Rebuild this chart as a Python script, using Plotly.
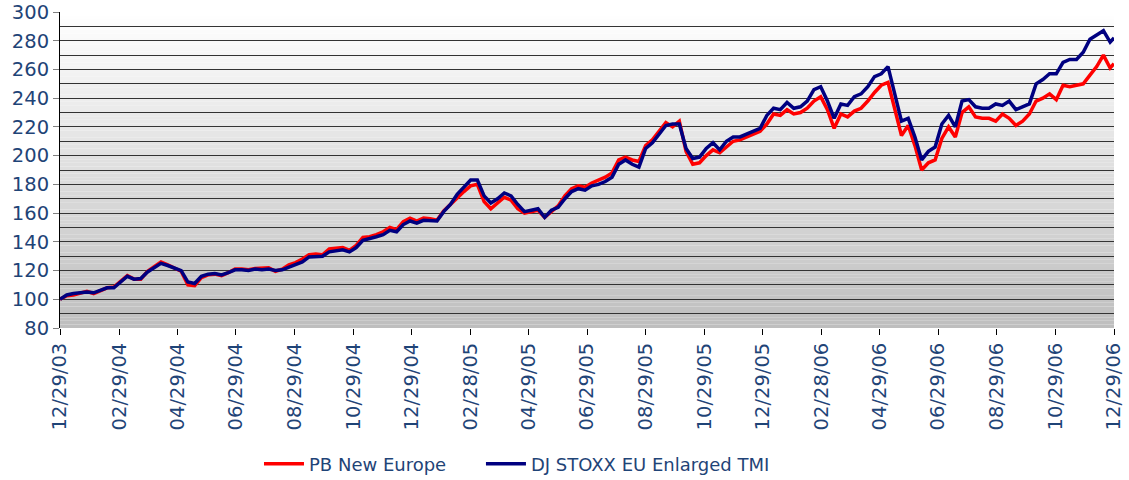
import pandas as pd
import plotly.graph_objects as go

# ---------------- data ----------------
start_date = "2003-12-29"
week_count = 157
end_date = "2006-12-29"

dj_stoxx_eu_enlarged_tmi = [
    100, 103, 104, 104.5, 105, 104.5, 106.5, 108, 108, 112,
    116, 114, 114.5, 119, 122, 125, 123.5, 121.5, 120, 112,
    111, 116, 117.5, 118, 117, 118.5, 120.5, 120.5, 120, 121,
    120.5, 121, 120, 120.5, 122.5, 124, 126, 129.5, 130, 130,
    133, 134, 134.5, 133, 136, 141, 142, 143.5, 145, 148,
    147, 152, 154.5, 153, 155, 155, 154.5, 161, 166,
    173, 178, 183, 183, 172, 167, 170, 174, 172, 166,
    161, 162, 163, 157, 162, 164, 170, 175, 177, 176,
    179, 180, 182, 185, 194, 197, 194, 192, 205, 209,
    215, 221, 222, 222, 205, 198, 199, 205, 209, 204,
    210, 213, 213, 215, 217, 219, 228, 233, 232, 237,
    233, 234, 238, 246, 248, 238, 226, 236, 235,
    241, 243, 248, 255, 257, 262, 244, 224, 226, 213,
    197, 203, 206, 222, 228, 220, 238, 239, 234, 233,
    233, 236, 235, 238, 232, 234, 236, 250, 253, 257,
    257, 265, 267, 267, 272, 281, 284, 287, 279, 282,
]

pb_new_europe = [
    100, 102.5, 103, 104.5, 105.5, 104, 106, 108, 108.5, 112.5,
    116.5, 114, 114, 119.5, 123, 126, 124, 122, 119.5, 110,
    109.5, 115, 117, 117.5, 116.5, 118.5, 121, 121, 120.5, 121.5,
    121.5, 122, 119.5, 121, 124, 125.5, 128, 131, 131.5, 131,
    135, 135.5, 136, 134, 137.5, 143, 143.5, 145, 147, 150,
    148.5, 154, 156.5, 154.5, 156.5, 156, 155, 161.5, 166,
    171, 175, 179, 180, 168, 163, 167, 171, 169, 163,
    160, 161, 162, 157, 161, 165, 172, 177, 179, 178,
    181, 183, 185, 188, 197, 199, 197, 196,
    207, 211, 217, 223, 220, 224, 203, 194, 195, 200,
    204, 202, 206, 210, 211, 213, 215, 217, 222, 229,
    228, 232, 229, 230, 233, 238, 241, 232, 219, 229, 227,
    231, 233, 238, 244, 249, 251, 232, 214, 221, 207,
    190, 195, 197, 212, 220, 213, 230, 234, 227, 226,
    226, 224, 229, 226, 221, 224, 229, 238, 240, 243,
    239, 249, 248, 249, 250, 256, 262, 270, 261, 264,
]

tick_labels = [
    "12/29/03", "02/29/04", "04/29/04", "06/29/04", "08/29/04", "10/29/04",
    "12/29/04", "02/28/05", "04/29/05", "06/29/05", "08/29/05", "10/29/05",
    "12/29/05", "02/28/06", "04/29/06", "06/29/06", "08/29/06", "10/29/06",
    "12/29/06",
]

y_min, y_max = 80, 300

# ---------------- figure ----------------
dates = list(pd.date_range(start_date, periods=week_count, freq="7D")) + [pd.Timestamp(end_date)]
tick_dates = list(pd.to_datetime(tick_labels, format="%m/%d/%y"))

text_color = "#1f4477"
font_family = "DejaVu Sans, Verdana, sans-serif"

fig = go.Figure()
fig.add_trace(go.Scatter(
    x=dates, y=pb_new_europe, name="PB New Europe", mode="lines",
    line=dict(color="#ff0000", width=3.5), legend="legend",
))
fig.add_trace(go.Scatter(
    x=dates, y=dj_stoxx_eu_enlarged_tmi, name="DJ STOXX EU Enlarged TMI", mode="lines",
    line=dict(color="#000080", width=3.5), legend="legend2",
))

# vertical gradient background (white at top -> grey at bottom)
n_bands = 88
step = (y_max - y_min) / n_bands
for k in range(n_bands):
    y0 = y_min + k * step
    frac = (y0 + step / 2 - y_min) / (y_max - y_min)
    g = int(round(190 + frac * 65))
    fig.add_shape(
        type="rect", xref="paper", yref="y", x0=0, x1=1, y0=y0, y1=y0 + step,
        fillcolor=f"rgb({g},{g},{g})", line=dict(width=0), layer="below",
    )

legend_style = dict(
    orientation="h", xref="container", yref="container",
    xanchor="left", yanchor="middle", y=0.0333,
    font=dict(size=18, color=text_color, family=font_family),
    itemwidth=40, bgcolor="rgba(0,0,0,0)",
)

fig.update_layout(
    width=1129, height=480,
    margin=dict(l=60, r=15, t=12, b=152, autoexpand=False),
    paper_bgcolor="white", plot_bgcolor="white",
    font=dict(family=font_family, color=text_color),
    showlegend=True,
    legend=dict(x=0.2294, **legend_style),
    legend2=dict(x=0.4260, **legend_style),
    hovermode=False,
)

fig.update_xaxes(
    type="date",
    range=[tick_dates[0], tick_dates[-1]],
    tickmode="array", tickvals=tick_dates, ticktext=tick_labels,
    tickangle=-90, ticks="outside", ticklen=6, tickcolor="black", tickwidth=1,
    tickfont=dict(size=19.5, color=text_color, family=font_family),
    showgrid=False, showline=False, zeroline=False, automargin=False,
)
fig.update_yaxes(
    range=[y_min, y_max], dtick=20, tick0=80,
    ticks="outside", ticklen=6, tickcolor="#808080", tickwidth=1,
    tickfont=dict(size=19.5, color=text_color, family=font_family),
    showgrid=True, gridcolor="#333333", gridwidth=1,
    minor=dict(dtick=10, showgrid=True, gridcolor="#333333", gridwidth=1),
    showline=True, linecolor="black", linewidth=1,
    zeroline=False, automargin=False,
)

fig.write_html(
    "out.html",
    config={"displayModeBar": False},
    post_script="document.body.style.margin='0';",
)
